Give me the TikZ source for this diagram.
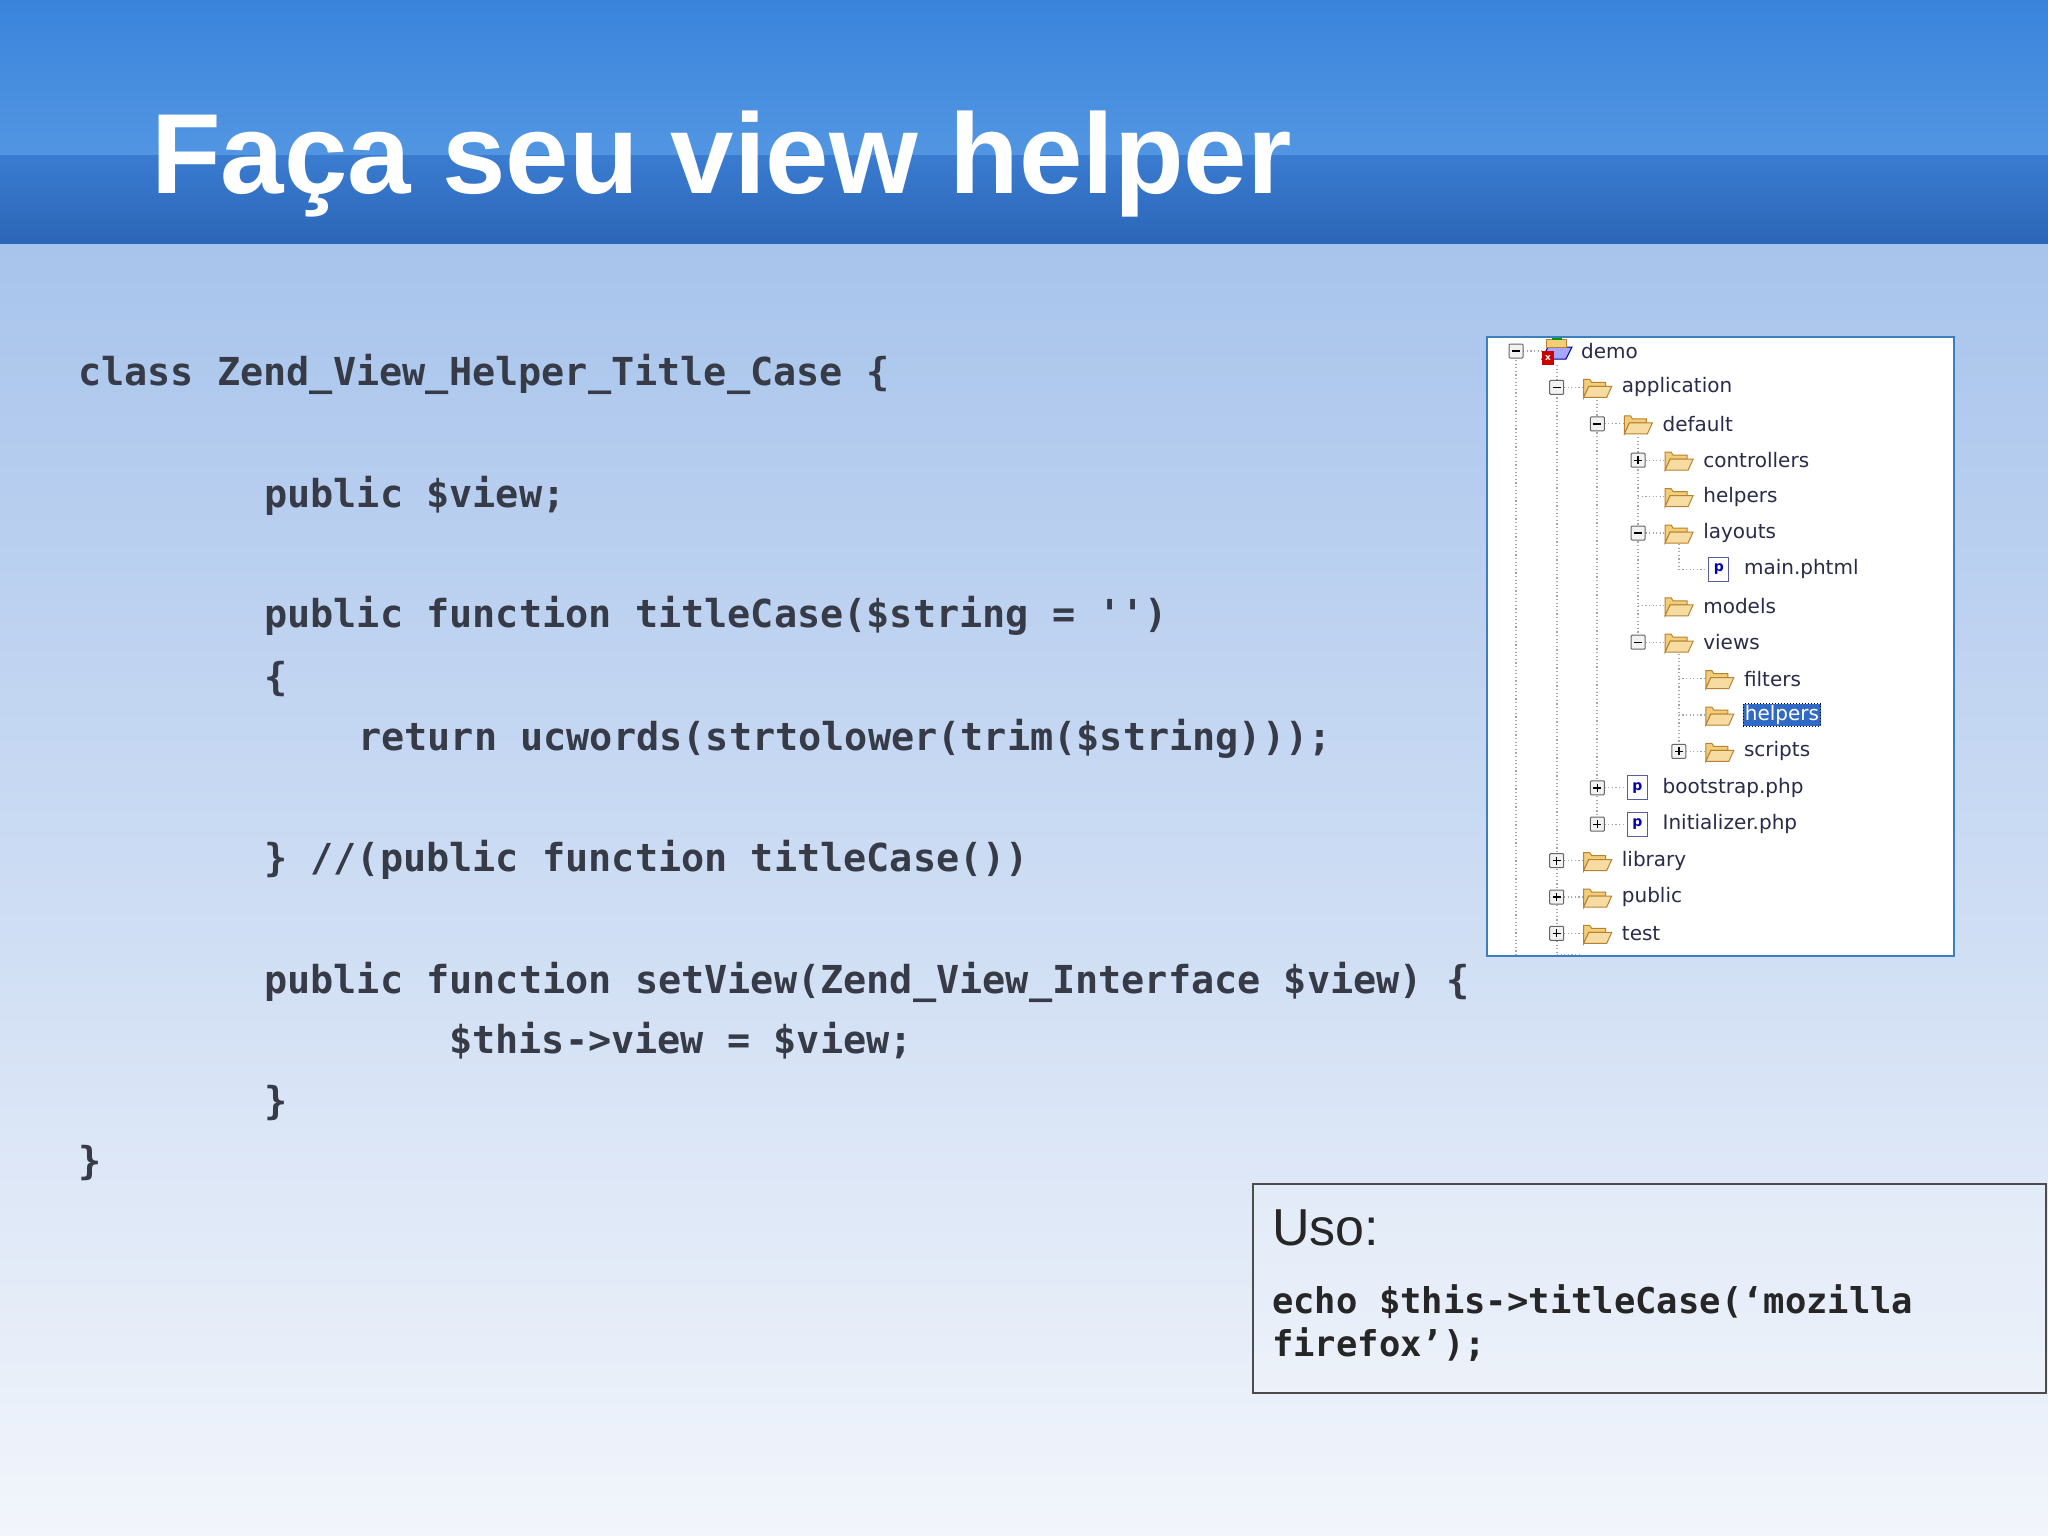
\documentclass[tikz,border=0pt]{standalone}
\usepackage{fontspec}
\setmainfont{Liberation Sans}
\newfontfamily\codefont{DejaVu Sans Mono}
\newfontfamily\treefont{DejaVu Sans}
\definecolor{codec}{HTML}{363B47}
\definecolor{treec}{HTML}{2A2A4A}
\definecolor{fold}{HTML}{F2CD7A}
\definecolor{foldb}{HTML}{B8822E}
\definecolor{selb}{HTML}{316AC5}
\definecolor{bgtop}{RGB}{168,196,236}
\definecolor{bgbot}{RGB}{242,245,251}
\definecolor{ba}{RGB}{58,132,220}
\definecolor{bb}{RGB}{82,150,226}
\definecolor{bc}{RGB}{58,124,208}
\definecolor{bd}{RGB}{44,102,184}
\definecolor{treeb}{RGB}{60,127,190}
\tikzset{
 code/.style={anchor=base west,inner sep=0pt,text=codec,font=\codefont\bfseries\fontsize{38.5}{46}\selectfont},
 usecode/.style={anchor=base west,inner sep=0pt,text=black!85,font=\codefont\bfseries\fontsize{35.5}{42}\selectfont},
 tt/.style={anchor=west,inner sep=1pt,text=treec,font=\treefont\fontsize{20}{24}\selectfont},
 dotl/.style={draw=gray!70,line width=1.2pt,dash pattern=on 1.2pt off 2.4pt},
 expbox/.style={draw=gray!80!black,fill=gray!10,line width=1pt,rounded corners=1pt},
}
\newcommand{\foldericon}[2]{%
 \filldraw[fill=fold,draw=foldb,line width=1pt] (#1-13,#2+10) -- (#1-13,#2-8) -- (#1-7,#2-8) -- (#1-5,#2-5) -- (#1+9,#2-5) -- (#1+9,#2-1) -- (#1-8,#2-1) -- cycle;
 \filldraw[fill=fold!70!white,draw=foldb,line width=1pt] (#1-13,#2+10) -- (#1-8,#2-1) -- (#1+15,#2-1) -- (#1+10,#2+10) -- cycle;}
\newcommand{\fileicon}[2]{%
 \filldraw[fill=white,draw=gray!70!blue,line width=1pt] (#1-10,#2-12) rectangle (#1+10,#2+12);
 \node[inner sep=0pt,text=blue!70!black,font=\treefont\bfseries\fontsize{14}{14}\selectfont] at (#1,#2) {p};}
\begin{document}
\begin{tikzpicture}[x=1pt,y=-1pt]
\useasboundingbox (0,0) rectangle (2048,1535);
% backgrounds
\fill[top color=bgtop,bottom color=bgbot] (0,243) rectangle (2048,1535);
\fill[top color=ba,bottom color=bb] (0,0) rectangle (2048,155);
\fill[top color=bc,bottom color=bd] (0,155) rectangle (2048,243);
\node[anchor=base west,inner sep=0pt,text=white,font=\bfseries\fontsize{114}{120}\selectfont] (title) at (151,193) {Faça seu view helper};
% code
\node[code] (c1) at (78,385) {class Zend\_View\_Helper\_Title\_Case \{};
\node[code] (c2) at (264,507) {public \$view;};
\node[code] (c3) at (264,627) {public function titleCase(\$string = '')};
\node[code] (c4) at (264,690) {\{};
\node[code] (c5) at (358,750) {return ucwords(strtolower(trim(\$string)));};
\node[code] (c6) at (264,871) {\} //(public function titleCase())};
\node[code] (c7) at (264,993) {public function setView(Zend\_View\_Interface \$view) \{};
\node[code] (c8) at (449,1053) {\$this->view = \$view;};
\node[code] (c9) at (264,1114) {\}};
\node[code] (c10) at (78,1174) {\}};
% uso box
\draw[draw=black!70,line width=1.5pt,fill=white,fill opacity=0.15] (1253,1184) rectangle (2046,1393);
\node[anchor=base west,inner sep=0pt,text=black!85,font=\fontsize{52}{56}\selectfont] (uso) at (1272,1245) {Uso:};
\node[usecode] (u1) at (1272,1313) {echo \$this->titleCase(‘mozilla};
\node[usecode] (u2) at (1272,1356) {firefox’);};
% tree box
\begin{scope}
\clip (1487,337) rectangle (1954,956);
\fill[white] (1487,337) rectangle (1954,956);
\draw[dotl] (1516,360) -- (1516,960);
\draw[dotl] (1557,365) -- (1557,960);
\draw[dotl] (1597,400) -- (1597,825);
\draw[dotl] (1638,437) -- (1638,643);
\draw[dotl] (1679,544) -- (1679,570);
\draw[dotl] (1679,654) -- (1679,752);
\draw[dotl] (1557,955) -- (1580,955);
\foreach \r/\l/\e/\ic/\t in {0/0/m/p/demo,1/1/m/f/application,2/2/m/f/default,3/3/p/f/controllers,4/3/n/f/helpers,5/3/m/f/layouts,6/4/n/d/main.phtml,7/3/n/f/models,8/3/m/f/views,9/4/n/f/filters,10/4/n/f/helpers,11/4/p/f/scripts,12/2/p/d/bootstrap.php,13/2/p/d/Initializer.php,14/1/p/f/library,15/1/p/f/public,16/1/p/f/test}{
  \pgfmathsetmacro{\yy}{351+36.4*\r}
  \pgfmathsetmacro{\ex}{1516+40.7*\l}
  \pgfmathsetmacro{\ix}{1556+40.7*\l}
  \pgfmathsetmacro{\tx}{1580+40.7*\l}
  \draw[dotl] (\ex,\yy) -- (\ix-14,\yy);
  \if\e n\else
    \filldraw[expbox] (\ex-7,\yy-7) rectangle (\ex+7,\yy+7);
    \draw[line width=1.4pt] (\ex-4,\yy) -- (\ex+4,\yy);
    \if\e p \draw[line width=1.4pt] (\ex,\yy-4) -- (\ex,\yy+4);\fi
  \fi
  \if\ic f \foldericon{\ix}{\yy}\fi
  \if\ic d \fileicon{\ix}{\yy}\fi
  \if\ic p
    \filldraw[fill=blue!35!white,draw=blue!60!black,line width=1pt] (\ix-14,\yy+8) -- (\ix-8,\yy-4) -- (\ix+16,\yy-4) -- (\ix+10,\yy+8) -- cycle;
    \filldraw[fill=fold,draw=foldb] (\ix-10,\yy-12) rectangle (\ix+10,\yy-4);
    \fill[green!60!black] (\ix-4,\yy-16) rectangle (\ix+6,\yy-11);
    \fill[red!80!black] (\ix-14,\yy) rectangle (\ix-2,\yy+14);
    \node[inner sep=0pt,text=white,font=\treefont\bfseries\fontsize{9}{9}\selectfont] at (\ix-8,\yy+7) {x};
  \fi
  \ifnum\r=10
    \node[tt,fill=selb,text=white,draw=black,dotted,line width=1pt,inner sep=1.5pt] (t\r) at (\tx,\yy) {\t};
  \else
    \node[tt] (t\r) at (\tx,\yy) {\t};
  \fi
}
\foldericon{1596}{969}
\end{scope}
\draw[draw=treeb,line width=1.8pt] (1487,337) rectangle (1954,956);
\end{tikzpicture}
\end{document}
